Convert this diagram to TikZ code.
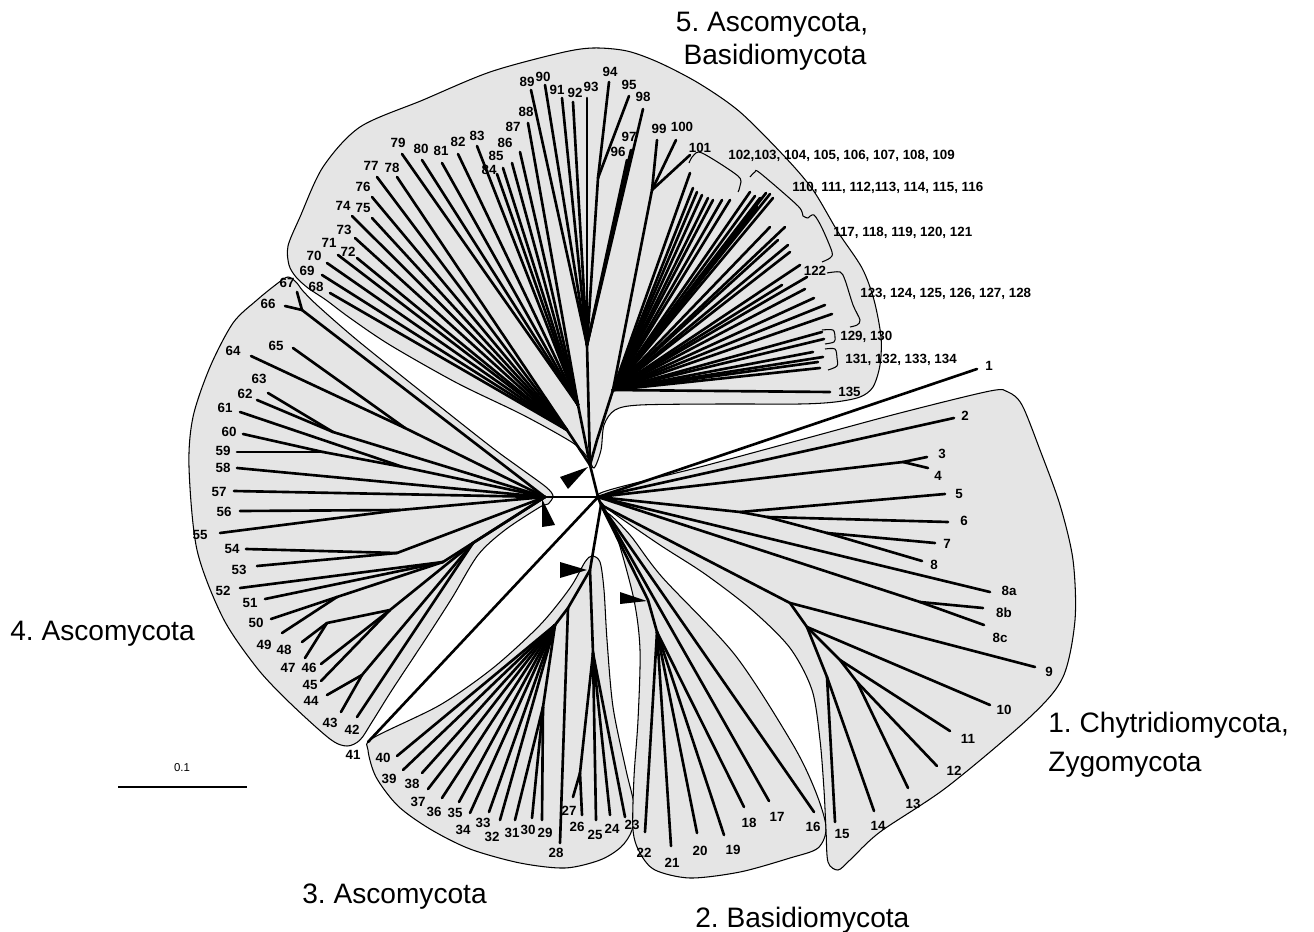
\documentclass[tikz,border=0pt]{standalone}
\usepackage{fontspec}
\setmainfont{Liberation Sans}
\frenchspacing
\newcommand{\leaffont}{\fontsize{7.6}{8}\selectfont\bfseries}
\newcommand{\cladefont}{\fontsize{16}{19}\selectfont}

\begin{document}
\begin{tikzpicture}[x=0.02cm,y=-0.02cm,
  hull/.style={fill=black!10,draw=black,line width=0.6pt},
  branch/.style={line width=1.5pt,line cap=round},
  leaf/.style={font=\leaffont,inner sep=0pt},
  clade/.style={font=\cladefont,inner sep=0pt},
  brace/.style={line width=0.6pt},
  pointer/.style={fill=black}]
\useasboundingbox (0,0) rectangle (1314,932);

% clade outlines
\draw[hull] plot[smooth cycle] coordinates {(594,468) (601,450) (604,425) (615,410) (640,405) (720,404) (800,404) (835,402) (860,397) (873,387) (880,365) (881,337) (874,300) (862,268) (838,232) (813,190) (785,157) (740,112) (700,84) (660,63) (627,51) (593,48) (560,53) (490,72) (423,100) (360,127) (323,167) (300,217) (288,246) (289,265) (296,277) (308,288) (326,300) (350,318) (390,345) (457,383) (523,415) (573,443) (588,458)};
\draw[hull] plot[smooth cycle] coordinates {(288,277) (296,282) (303,291) (318,306) (357,340) (423,393) (490,446) (520,468) (546,487) (553,496) (548,504) (540,507) (505,530) (478,555) (452,598) (425,640) (392,690) (372,722) (360,740) (347,746) (330,739) (290,703) (257,668) (223,618) (197,550) (189,467) (193,417) (210,367) (233,323) (257,300) (278,283)};
\draw[hull] plot[smooth cycle] coordinates {(592,556) (600,562) (604,590) (607,640) (613,707) (626,770) (634,805) (632,830) (621,847) (600,860) (565,868) (520,863) (470,849) (430,829) (398,806) (376,777) (368,750) (373,738) (440,705) (493,668) (540,625) (570,588) (585,562)};
\draw[hull] plot[smooth cycle] coordinates {(607,513) (630,535) (662,577) (735,655) (792,743) (815,790) (826,827) (818,848) (790,858) (740,872) (690,878) (655,870) (640,853) (633,830) (634,777) (638,720) (640,650) (634,600) (618,540)};
\draw[hull] plot[smooth cycle] coordinates {(603,492) (700,467) (800,440) (900,413) (990,391) (1008,392) (1022,405) (1040,450) (1060,505) (1073,560) (1075,620) (1063,677) (1030,717) (947,787) (880,832) (850,860) (838,870) (828,862) (826,830) (824,790) (820,740) (812,690) (790,648) (752,610) (705,574) (660,545) (612,512) (602,503)};

% inner nodes
\coordinate (cc) at (598,497);
\coordinate (cc2) at (601,505);
\coordinate (base5) at (590,465);
\coordinate (base4) at (545,497);
\coordinate (base3) at (590,570);
\coordinate (s5) at (597,440);
\coordinate (hl) at (567,430);
\coordinate (hk) at (578,405);
\coordinate (hm) at (587,345);
\coordinate (hr) at (613,390);
\coordinate (j94) at (598,178);
\coordinate (j99) at (652,190);
\coordinate (j67) at (302,310);
\coordinate (q1) at (405,428);
\coordinate (q2) at (333,432);
\coordinate (q3) at (323,452);
\coordinate (q4) at (403,467);
\coordinate (q5) at (400,510);
\coordinate (q6) at (397,553);
\coordinate (q7) at (443,562);
\coordinate (q8) at (337,597);
\coordinate (q9) at (327,623);
\coordinate (q10) at (390,610);
\coordinate (q11) at (362,675);
\coordinate (q12) at (473,543);
\coordinate (c1) at (593,653);
\coordinate (c2) at (580,773);
\coordinate (c3) at (568,608);
\coordinate (c4) at (555,625);
\coordinate (c5) at (543,707);
\coordinate (p1) at (648,600);
\coordinate (p2) at (657,632);
\coordinate (d1) at (903,462);
\coordinate (d2) at (740,512);
\coordinate (d3) at (767,517);
\coordinate (d4) at (827,533);
\coordinate (d5) at (920,602);
\coordinate (d6) at (790,603);
\coordinate (d7) at (807,627);
\coordinate (d8) at (840,660);
\coordinate (d9) at (857,682);
\coordinate (d10) at (827,677);

\draw[branch] (cc) -- (base5);
\draw[branch] (cc) -- (base4);
\draw[branch] (cc) -- (cc2);
\draw[branch] (cc2) -- (base3);
\draw[branch] (base5) -- (hl);
\draw[branch] (base5) -- (hk);
\draw[branch] (base5) -- (hm);
\draw[branch] (base5) -- (s5) -- (hr);
\draw[branch] (j94) -- (hm);
\draw[branch] (j99) -- (hr);
\draw[branch] (j67) -- (base4);
\draw[branch] (q1) -- (base4);
\draw[branch] (q2) -- (base4);
\draw[branch] (q3) -- (q4) -- (base4);
\draw[branch] (q5) -- (base4);
\draw[branch] (q6) -- (base4);
\draw[branch] (q8) -- (q7) -- (base4);
\draw[branch] (q9) -- (q10) -- (q12) -- (base4);
\draw[branch] (q11) -- (q12);
\draw[branch] (c2) -- (c1) -- (base3);
\draw[branch] (c5) -- (c4) -- (c3) -- (base3);
\draw[branch] (p2) -- (p1) -- (cc2);
\draw[branch] (d1) -- (cc);
\draw[branch] (d4) -- (d3) -- (d2) -- (cc);
\draw[branch] (d5) -- (cc);
\draw[branch] (d9) -- (d8) -- (d7) -- (d6) -- (cc2);
\draw[branch] (d10) -- (d7);

% leaves
\foreach \n/\x/\y/\lx/\ly/\p in {
  68/330/293/316/287/hl, 69/322/275/307/271/hl, 70/327/263/314/256/hl,
  71/338/255/329/243/hl, 72/357/258/348/252/hl, 73/355/238/344/230/hl,
  74/352/216/343/206/hl, 75/372/218/363/208/hl, 76/372/197/363/187/hl,
  77/377/177/371/166/hl, 78/397/177/392/168/hl, 79/402/154/398/143/hk,
  80/422/160/421/149/hk, 81/442/163/441/151/hk, 82/458/154/458/142/hk,
  83/477/146/477/136/hk, 84/497/174/489/170/hk, 85/503/168/496/156/hk,
  86/512/163/505/143/hk, 87/520/152/513/127/hk, 88/528/123/526/112/hk,
  89/531/90/527/82/hm, 90/545/85/543/77/hm, 91/562/98/557/90/hm,
  92/573/102/575/93/hm, 93/587/98/591/87/hm, 94/609/82/610/72/j94,
  95/629/96/629/85/j94, 96/627/160/618/152/hm, 97/631/150/629/137/hm,
  98/643/109/643/97/hm, 99/657/140/659/129/j99, 100/676/140/682/127/j99,
  101/690/155/700/148/j99,
  66/285/306/268/304/j67, 67/297/292/287/283/j67, 65/293/348/276/346/q1,
  64/251/356/233/351/q1, 63/268/393/259/379/q2, 62/257/400/245/394/q2,
  61/240/412/225/408/q4, 60/243/434/229/432/q3, 59/237/452/223/451/q3,
  58/237/468/223/468/base4, 57/234/491/219/492/base4, 56/240/511/224/512/q5,
  55/220/533/200/535/q5, 54/246/549/232/549/q6, 53/257/566/239/570/q6,
  52/240/588/223/591/q7, 51/265/599/250/603/q7, 50/271/619/256/623/q8,
  49/282/633/264/645/q8, 48/302/642/284/650/q9, 47/305/658/288/668/q9,
  46/321/664/309/668/q10, 45/321/681/310/685/q10, 44/327/695/311/701/q11,
  43/341/712/330/723/q11, 42/357/717/352/730/q12, 41/368/742/353/755/cc,
  40/397/756/383/758/c4, 39/403/770/389/779/c4, 38/422/773/412/784/c4,
  37/428/789/418/802/c4, 36/442/798/434/812/c4, 35/459/802/455/813/c4,
  34/470/813/463/830/c4, 33/489/812/483/823/c4, 32/500/820/492/837/c4,
  31/515/820/512/833/c5, 30/532/818/528/830/c5, 29/542/820/545/833/c5,
  28/560/843/556/853/c3, 27/573/797/569/811/c2, 26/582/815/577/827/c2,
  25/596/820/595/835/c1, 24/610/815/612/829/c1, 23/625/817/632/825/c1,
  16/814/812/813/827/cc2, 17/769/801/777/817/cc2, 18/744/807/749/823/p2,
  19/724/835/733/850/p2, 20/697/833/700/851/p2, 21/671/846/672/863/p2,
  22/645/832/644/853/p2,
  1/977/369/989/366/cc, 2/954/418/965/416/cc, 3/927/457/942/454/d1,
  4/928/468/938/476/d1, 5/945/494/959/494/d2, 6/948/522/964/521/d3,
  7/935/543/947/544/d4, 8/922/561/934/565/d4, 8a/990/592/1009/591/cc,
  8b/983/608/1004/613/d5, 8c/984/625/1000/638/d5, 9/1035/667/1049/672/d6,
  10/990/705/1004/710/d7, 11/950/731/968/739/d8, 12/937/766/954/771/d9,
  13/908/788/913/804/d9, 14/874/811/878/826/d10, 15/835/822/842/834/d10}{
  \coordinate (e\n) at (\x,\y);
  \draw[branch] (\p) -- (e\n);
  \node[leaf] (l\n) at (\lx,\ly) {\n};
}

% leaves 102 to 135
\foreach \x/\y [count=\i] in {690/173, 693/188, 697/192, 702/195, 708/198,
  713/200, 722/200, 730/200, 750/192, 755/196, 760/198, 766/193, 770/194,
  773/198, 757/207, 770/227, 785/227, 778/240, 788/245, 790/252, 800/265,
  807/277, 782/285, 805/289, 814/298, 825/305, 832/314, 822/332, 824/339,
  813/352, 823/357, 818/362, 820/368, 830/392}{
  \coordinate (r\i) at (\x,\y);
  \draw[branch] (hr) -- (r\i);
}

% brackets
\draw[brace] plot[smooth] coordinates {(689,163) (693,156) (702,153) (738,176) (740,186) (738,192)};
\draw[brace] plot[smooth] coordinates {(750,177) (755,172) (760,173) (798,206) (803,216) (808,218)};
\draw[brace] plot[smooth] coordinates {(808,218) (814,215) (822,228) (832,252) (830,258) (822,262)};
\draw[brace] plot[smooth] coordinates {(827,273) (840,272) (845,280) (853,305) (860,320) (857,325) (850,327)};
\draw[brace] plot[smooth] coordinates {(822,330) (833,330) (835,337) (834,342) (825,344)};
\draw[brace] plot[smooth] coordinates {(825,349) (835,349) (837,358) (837,366) (828,370)};

\node[leaf,anchor=west] (g102) at (728,156) {102,103, 104, 105, 106, 107, 108, 109};
\node[leaf,anchor=west] (g110) at (792,188) {110, 111, 112,113, 114, 115, 116};
\node[leaf,anchor=west] (g117) at (833,233) {117, 118, 119, 120, 121};
\node[leaf] (g122) at (815,271) {122};
\node[leaf,anchor=west] (g123) at (860,294) {123, 124, 125, 126, 127, 128};
\node[leaf,anchor=west] (g129) at (840,337) {129, 130};
\node[leaf,anchor=west] (g131) at (845,360) {131, 132, 133, 134};
\node[leaf,anchor=west] (g135) at (838,392) {135};

% markers
\fill[pointer] (560,477) -- (568,489) -- (588,467) -- cycle;
\fill[pointer] (542,499) -- (542,527) -- (555,525) -- cycle;
\fill[pointer] (560,562) -- (560,578) -- (587,570) -- cycle;
\fill[pointer] (620,592) -- (620,604) -- (647,601) -- cycle;

% scale bar
\coordinate (sb1) at (118,787);
\coordinate (sb2) at (247,787);
\draw[line width=1.5pt] (sb1) -- (sb2);
\node[font=\fontsize{6.5}{7}\selectfont,inner sep=0pt] (sbl) at (182,768) {0.1};

% clade names
\node[clade,anchor=base] (n5a) at (772,32) {5. Ascomycota,};
\node[clade,anchor=base] (n5b) at (775,65) {Basidiomycota};
\node[clade,anchor=base west] (n1a) at (1048,732) {1. Chytridiomycota,};
\node[clade,anchor=base west] (n1b) at (1048,771) {Zygomycota};
\node[clade,anchor=base west] (n2) at (695,927) {2. Basidiomycota};
\node[clade,anchor=base west] (n3) at (302,903) {3. Ascomycota};
\node[clade,anchor=base west] (n4) at (10,640) {4. Ascomycota};
\end{tikzpicture}
\end{document}
